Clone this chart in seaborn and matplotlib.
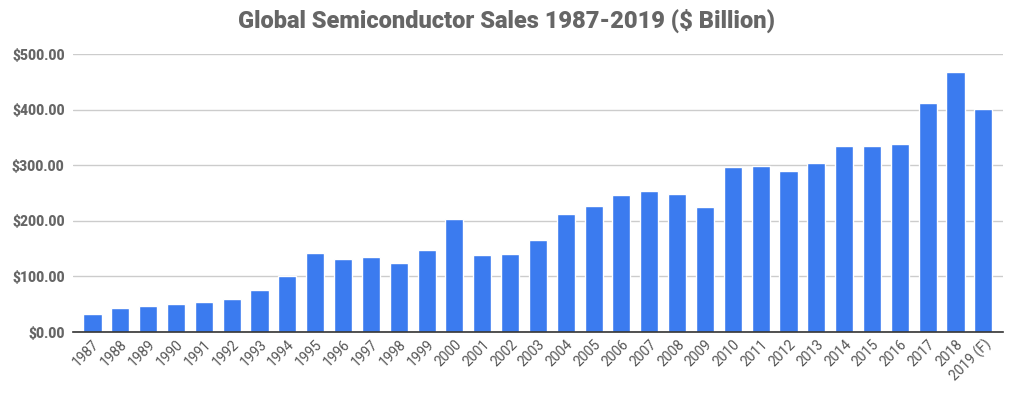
import numpy as np
import pandas as pd
import matplotlib
matplotlib.use('Agg')
import matplotlib.pyplot as plt
import seaborn as sns
from matplotlib.ticker import FuncFormatter

# values ($ billion)
years = ['1987', '1988', '1989', '1990', '1991', '1992', '1993', '1994', '1995',
         '1996', '1997', '1998', '1999', '2000', '2001', '2002', '2003', '2004',
         '2005', '2006', '2007', '2008', '2009', '2010', '2011', '2012', '2013',
         '2014', '2015', '2016', '2017', '2018', '2019 (F)']
sales = [33.0, 43.8, 47.4, 51.0, 54.6, 60.0, 76.0, 101.3, 142.7,
         132.0, 135.5, 124.7, 148.0, 204.0, 139.0, 141.0, 166.0, 212.8,
         227.0, 247.0, 254.0, 248.8, 225.4, 297.4, 299.2, 290.0, 304.6,
         335.0, 335.0, 338.7, 412.5, 468.2, 401.7]
y_ticks = [0, 100, 200, 300, 400, 500]

df = pd.DataFrame({'year': years, 'sales': sales})

sns.set_theme(style='white')
plt.rcParams['font.family'] = ['Roboto', 'DejaVu Sans']

fig = plt.figure(figsize=(10.14, 3.96), dpi=100)
ax = fig.add_axes([0.072, 0.1616, 0.917, 0.702])

sns.barplot(data=df, x='year', y='sales', color='#3b7bef', width=0.65,
            saturation=1, ax=ax, zorder=3)

ax.set_xlim(-0.7, 32.7)
ax.set_ylim(0, 500)
ax.set_yticks(y_ticks)
ax.yaxis.set_major_formatter(FuncFormatter(lambda v, p: f'${v:,.2f}'))
ax.grid(axis='y', color='#cccccc', linewidth=1, zorder=0)
ax.set_xlabel('')
ax.set_ylabel('')

for s in ['top', 'right', 'left']:
    ax.spines[s].set_visible(False)
ax.spines['bottom'].set_color('#333333')
ax.spines['bottom'].set_linewidth(1.2)
ax.spines['bottom'].set_zorder(4)

ax.tick_params(axis='both', length=0)
ax.tick_params(axis='y', pad=6)
for lbl in ax.get_yticklabels():
    lbl.set_fontweight('heavy')
    lbl.set_fontsize(10)
    lbl.set_color('#666666')
for lbl in ax.get_xticklabels():
    lbl.set_rotation(45)
    lbl.set_ha('right')
    lbl.set_rotation_mode('anchor')
    lbl.set_fontsize(10)
    lbl.set_color('#555555')

fig.suptitle('Global Semiconductor Sales 1987-2019 ($ Billion)', x=0.5, y=0.978,
             fontsize=17, fontweight='black', color='#666666')

fig.savefig('out.png', dpi=100)
